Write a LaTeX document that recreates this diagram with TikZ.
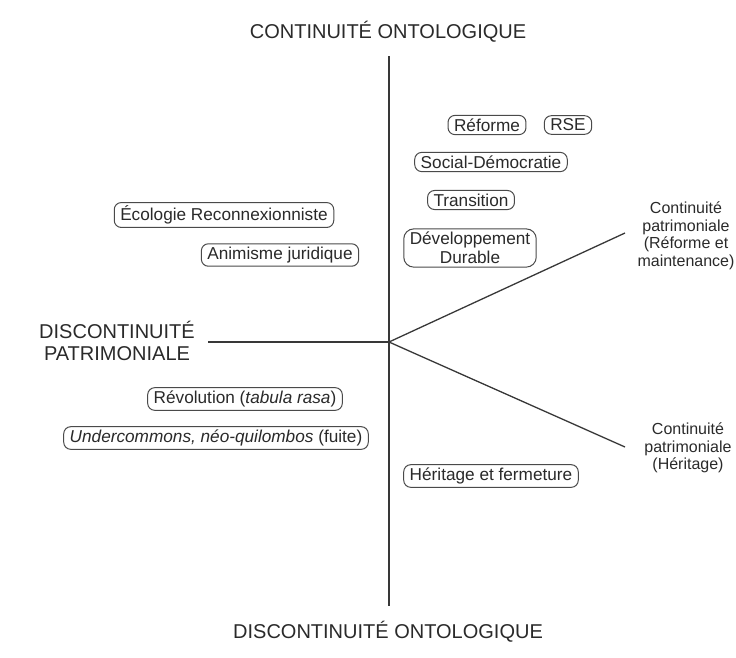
\documentclass[tikz,border=0pt]{standalone}
\usepackage{fontspec}
\setmainfont{Liberation Sans}
\usepackage{xcolor}
\usepackage{tikz}
\usetikzlibrary{positioning}
\definecolor{inkgray}{HTML}{2A2A2A}
\definecolor{framegray}{HTML}{4A4A4A}
\definecolor{linegray}{HTML}{383838}
\tikzset{
  boxnode/.style={
    rectangle, rounded corners=7pt, draw=framegray, line width=1pt,
    fill=white, align=center, inner xsep=6pt, inner ysep=3.2pt,
    text=inkgray, font=\fontsize{17.2}{19}\selectfont
  },
  axislabel/.style={
    align=center, text=inkgray, font=\fontsize{20}{22}\selectfont
  },
  sidelabel/.style={
    align=center, text=inkgray, font=\fontsize{16}{17.5}\selectfont
  },
  axisline/.style={draw=linegray, line width=1.3pt},
}

\begin{document}
\begin{tikzpicture}[x=1pt, y=-1pt]
  \useasboundingbox (0,0) rectangle (736,657);
  % axes
  \coordinate (origin) at (389,342);
  \coordinate (topend) at (389,56);
  \coordinate (botend) at (389,606);
  \coordinate (leftend) at (208,342);
  \coordinate (upend) at (625,233);
  \coordinate (lowend) at (625,447);
  \draw[axisline] (topend) -- (botend);
  \draw[axisline] (leftend) -- (origin);
  \draw[axisline] (origin) -- (upend);
  \draw[axisline] (origin) -- (lowend);
  % axis titles
  \node[axislabel] (conto) at (388,32) {CONTINUITÉ ONTOLOGIQUE};
  \node[axislabel] (disconto) at (388,632) {DISCONTINUITÉ ONTOLOGIQUE};
  \node[axislabel] (dispatri) at (117,341) {DISCONTINUITÉ\\PATRIMONIALE};
  \node[sidelabel] (contref) at (686,236) {Continuité\\patrimoniale\\(Réforme et\\maintenance)};
  \node[sidelabel] (conther) at (688,448) {Continuité\\patrimoniale\\(Héritage)};
  % upper right
  \node[boxnode] (reforme) at (487,125) {Réforme};
  \node[boxnode] (rse) at (568,125) {RSE};
  \node[boxnode] (socdem) at (491,162) {Social-Démocratie};
  \node[boxnode] (transition) at (471,200) {Transition};
  \node[boxnode, rounded corners=10pt] (devdur) at (470,248) {Développement\\Durable};
  % upper left
  \node[boxnode] (ecoreco) at (224,215) {Écologie Reconnexionniste};
  \node[boxnode] (animisme) at (280,255) {Animisme juridique};
  % lower left
  \node[boxnode] (revolution) at (245,399) {Révolution (\textit{tabula rasa})};
  \node[boxnode] (undercom) at (216,438) {\textit{Undercommons, néo-quilombos} (fuite)};
  % lower right
  \node[boxnode] (heritage) at (491,476) {Héritage et fermeture};
\end{tikzpicture}
\end{document}
